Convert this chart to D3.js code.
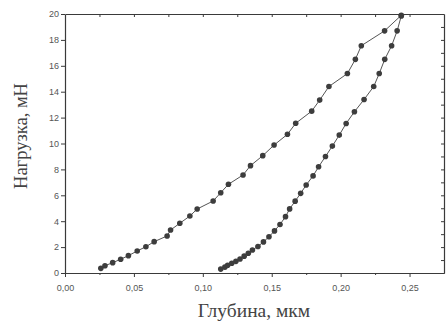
<!DOCTYPE html>
<html>
<head>
<meta charset="utf-8">
<script src="https://cdn.jsdelivr.net/npm/d3@7"></script>
<style>
  html, body { margin: 0; padding: 0; background: #fff; }
  svg { display: block; }
</style>
</head>
<body>
<div id="chart"></div>
<script>
// loading branch (depth, um ; load, mN)
const loadDepth = [0.026, 0.029, 0.0346, 0.0404, 0.046, 0.0524, 0.0587, 0.0647, 0.0741, 0.0766, 0.0833, 0.0906, 0.0959, 0.1075, 0.113, 0.1186, 0.1292, 0.1346, 0.1435, 0.1517, 0.1614, 0.1674, 0.179, 0.1848, 0.1915, 0.2049, 0.2107, 0.215, 0.2319, 0.244];
const loadForce = [0.36, 0.56, 0.80, 1.06, 1.34, 1.70, 2.03, 2.42, 2.86, 3.32, 3.84, 4.40, 4.94, 5.56, 6.20, 6.85, 7.57, 8.29, 9.06, 9.88, 10.71, 11.56, 12.5, 13.35, 14.4, 15.4, 16.5, 17.55, 18.7, 19.9];

// unloading branch
const unloadDepth = [0.113, 0.116, 0.118, 0.121, 0.124, 0.127, 0.130, 0.133, 0.136, 0.140, 0.144, 0.148, 0.152, 0.156, 0.160, 0.163, 0.167, 0.171, 0.175, 0.180, 0.184, 0.189, 0.194, 0.199, 0.204, 0.210, 0.217, 0.224, 0.228, 0.232, 0.237, 0.241, 0.244];
const unloadForce = [0.30, 0.45, 0.60, 0.75, 0.90, 1.08, 1.30, 1.52, 1.78, 2.05, 2.40, 2.80, 3.25, 3.75, 4.35, 4.95, 5.55, 6.15, 6.80, 7.50, 8.20, 9.00, 9.80, 10.65, 11.55, 12.45, 13.40, 14.40, 15.40, 16.50, 17.55, 18.70, 19.85];

const xTicks = [0, 0.05, 0.10, 0.15, 0.20, 0.25];
const yTicks = [0, 2, 4, 6, 8, 10, 12, 14, 16, 18, 20];

const xTitle = "Глубина, мкм";
const yTitle = "Нагрузка, мН";

const W = 446, H = 325;
const margin = { top: 14, right: 2, bottom: 52, left: 65 };

const svg = d3.select("#chart").append("svg")
  .attr("width", W)
  .attr("height", H);

const x = d3.scaleLinear().domain([0, 0.275]).range([margin.left, W - margin.right]);
const y = d3.scaleLinear().domain([0, 20]).range([H - margin.bottom, margin.top]);

const fmtX = v => d3.format(".2f")(v).replace(".", ",");
const axisColor = "#3a3a3a";
const labelColor = "#555";

// frame axes
const bottom = svg.append("g")
  .attr("transform", `translate(0,${y(0)})`)
  .call(d3.axisBottom(x).tickValues(xTicks).tickFormat(fmtX).tickSize(4).tickSizeOuter(0));
svg.append("g")
  .attr("transform", `translate(0,${y(0)})`)
  .call(d3.axisBottom(x).tickValues(d3.range(0.025, 0.275, 0.05)).tickFormat("").tickSize(2).tickSizeOuter(0));

const left = svg.append("g")
  .attr("transform", `translate(${x(0)},0)`)
  .call(d3.axisLeft(y).tickValues(yTicks).tickSize(4).tickSizeOuter(0));

svg.append("g")
  .attr("transform", `translate(0,${y(20)})`)
  .call(d3.axisBottom(x).tickValues(d3.range(0.025, 0.275, 0.025)).tickFormat("").tickSize(3).tickSizeOuter(0));

svg.append("g")
  .attr("transform", `translate(${x(0.275)},0)`)
  .call(d3.axisLeft(y).tickValues(d3.range(1, 20, 1)).tickFormat("").tickSize(3).tickSizeOuter(0));

svg.selectAll(".domain").attr("stroke", axisColor).attr("stroke-width", 1.2);
svg.selectAll(".tick line").attr("stroke", axisColor);
svg.selectAll(".tick text")
  .attr("fill", labelColor)
  .style("font-family", "Liberation Sans, Arial, sans-serif")
  .style("font-size", "9px");
bottom.selectAll(".tick text").attr("dy", "1.25em");
left.selectAll(".tick text").attr("x", -6);

// series
const loadPts = loadDepth.map((d, i) => [d, loadForce[i]]);
const unloadPts = unloadDepth.map((d, i) => [d, unloadForce[i]]);

const line = d3.line().x(d => x(d[0])).y(d => y(d[1]));

[loadPts, unloadPts].forEach(pts => {
  svg.append("path")
    .datum(pts)
    .attr("fill", "none")
    .attr("stroke", "#555")
    .attr("stroke-width", 1)
    .attr("d", line);
  svg.append("g").selectAll("circle")
    .data(pts)
    .join("circle")
    .attr("cx", d => x(d[0]))
    .attr("cy", d => y(d[1]))
    .attr("r", 2.8)
    .attr("fill", "#3d3d3d");
});

// titles
svg.append("text")
  .attr("x", 254)
  .attr("y", 317)
  .attr("text-anchor", "middle")
  .attr("fill", "#444")
  .style("font-family", "Liberation Serif, Times New Roman, serif")
  .style("font-size", "19.5px")
  .text(xTitle);

svg.append("text")
  .attr("transform", `translate(27,136) rotate(-90)`)
  .attr("text-anchor", "middle")
  .attr("fill", "#444")
  .style("font-family", "Liberation Serif, Times New Roman, serif")
  .style("font-size", "18.5px")
  .text(yTitle);
</script>
</body>
</html>
